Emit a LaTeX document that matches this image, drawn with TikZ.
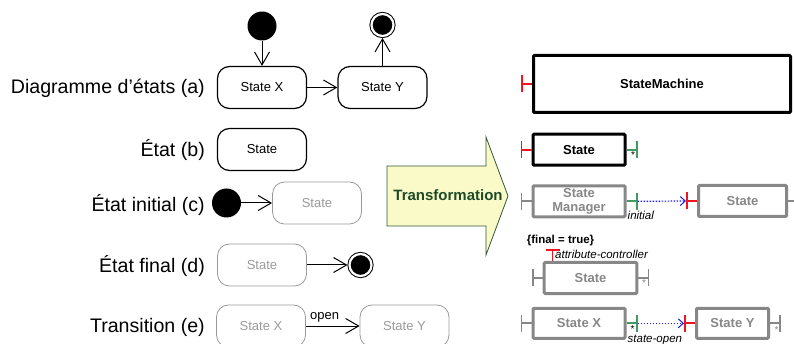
\documentclass[tikz,border=0pt]{standalone}
\usepackage{fontspec}
\setmainfont{Liberation Sans}
\usepackage{tikz}
\usetikzlibrary{arrows.meta,positioning}
\definecolor{lgc}{HTML}{9A9A9A}
\definecolor{boxg}{HTML}{878787}
\definecolor{stubr}{HTML}{F0141E}
\definecolor{stubg}{HTML}{3F9B62}
\definecolor{trfill}{HTML}{FAFAC8}
\definecolor{trdraw}{HTML}{2C5A36}
\definecolor{trtext}{HTML}{1E4A28}
\definecolor{depc}{HTML}{1A1AF0}
\tikzset{
  lab/.style={anchor=east,inner sep=0pt,font=\fontsize{19.6}{21}\selectfont},
  st/.style={draw,line width=1.2pt,rounded corners=12pt,minimum width=89pt,minimum height=42pt,inner sep=0pt,font=\fontsize{13}{15}\selectfont},
  gst/.style={st,draw=lgc,text=lgc,line width=0.8pt},
  ini/.style={circle,fill=black,minimum size=29pt,inner sep=0pt},
  fin/.style={circle,fill=black,draw=black,line width=1pt,double=white,double distance=2.2pt,minimum size=22pt,inner sep=0pt,outer sep=2pt},
  tr/.style={line width=1pt,-{Straight Barb[length=13pt,width=15pt,line width=1pt]}},
  tarrow/.style={draw=trdraw,fill=trfill,line width=0.8pt},
  mb/.style={draw,line width=3pt,rounded corners=1pt,inner sep=0pt,align=center,font=\bfseries\fontsize{13}{14}\selectfont},
  gb/.style={mb,draw=boxg,text=boxg},
  rstub/.style={draw=stubr,line width=1.8pt,-{Bar[width=17pt]}},
  gstub/.style={rstub,draw=stubg},
  ystub/.style={rstub,draw=boxg},
  dep/.style={draw=depc,line width=1.2pt,dash pattern=on 1.5pt off 1.5pt,-{Straight Barb[length=5pt,width=9pt,line width=1pt]}},
  anno/.style={font=\itshape\fontsize{11.5}{12}\selectfont,inner sep=0pt},
  mult/.style={font=\fontsize{10}{10}\selectfont,inner sep=0pt,text height=7.2pt,text depth=0pt,anchor=south},
}

\begin{document}
\begin{tikzpicture}[x=1pt,y=-1pt]
  \useasboundingbox (0,0) rectangle (794,344);
  \node[lab] (la) at (205,88) {Diagramme d’états (a)};
  \node[lab] (lb) at (205,150) {État (b)};
  \node[lab] (lc) at (205,205) {État initial (c)};
  \node[lab] (ld) at (205,266) {État final (d)};
  \node[lab] (le) at (205,327) {Transition (e)};

  \node[st] (ax) at (262,87.5) {State X};
  \node[st] (ay) at (382.5,87.5) {State Y};
  \node[ini] (ai) at (262,26) {};
  \node[fin] (af) at (382.5,25) {};
  \draw[tr] (ai) -- (ax);
  \draw[tr] (ax) -- (ay);
  \draw[tr] (ay) -- (af);
  \node[st] (bs) at (262,149.5) {State};
  \node[ini] (ci) at (226.5,203) {};
  \node[gst] (cs) at (317,203) {State};
  \draw[tr] (ci) -- (cs);
  \node[gst] (ds) at (262,265) {State};
  \node[fin] (df) at (360.5,265) {};
  \draw[tr] (ds) -- (df);
  \node[gst] (ex) at (261,326) {State X};
  \node[gst] (ey) at (404.5,326) {State Y};
  \draw[tr] (ex) -- node[pos=0.35,above=0pt,font=\fontsize{13}{15}\selectfont] {open} (ey);

  \draw[tarrow] (387,166) -- (486,166) -- (486,137) -- (508,196) -- (486,255) -- (486,226) -- (387,226) -- cycle;
  \node[font=\bfseries\fontsize{15}{16}\selectfont,text=trtext] (tf) at (448,195) {Transformation};

  \node[mb,minimum width=257pt,minimum height=57pt] (sm) at (662,84) {StateMachine};
  \draw[rstub] (sm.west) -- ++(-11,0);

  \node[mb,minimum width=92pt,minimum height=31pt] (bst) at (579,149.7) {State};
  \draw[rstub] (bst.west) -- ++(-11,0);
  \draw[gstub] (bst.east) -- ++(11,0);
  \node[mult] at (633,158.5) {*};

  \node[gb,minimum width=92pt,minimum height=31pt] (mgr) at (579,201.3) {State\\Manager};
  \node[gb,minimum width=88pt,minimum height=31pt] (cst) at (742.5,201) {State};
  \draw[ystub] (mgr.west) -- ++(-11,0);
  \draw[gstub] (mgr.east) -- ++(11,0) coordinate (mgr-o);
  \draw[rstub] (cst.west) -- ++(-11,0) coordinate (cst-i);
  \draw[ystub] (cst.east) -- ++(11,0);
  \draw[dep] (mgr-o) -- (cst-i);
  \node[anno,anchor=west] at (627.5,215) {initial};

  \node[gb,minimum width=92.6pt,minimum height=31pt] (fs) at (590.5,278) {State};
  \draw[ystub] (fs.west) -- ++(-11,0);
  \draw[ystub] (fs.east) -- ++(11,0);
  \node[mult,text=boxg] at (644,287) {*};
  \draw[rstub,-{Bar[width=14pt]}] ([xshift=-38pt]fs.north) -- ++(0,-12) coordinate (fs-a);
  \node[anno,anchor=west] at (555,254.5) {attribute-controller};
  \node[font=\bfseries\fontsize{11.5}{12}\selectfont,inner sep=0pt] at (560.5,241) {\{final = true\}};

  \node[gb,minimum width=92pt,minimum height=30pt] (ex2) at (579,323.3) {State X};
  \node[gb,minimum width=72pt,minimum height=30pt] (ey2) at (732.5,323.3) {State Y};
  \draw[ystub] (ex2.west) -- ++(-11,0);
  \draw[gstub] (ex2.east) -- ++(11,0) coordinate (ex2-o);
  \draw[rstub] (ey2.west) -- ++(-11,0) coordinate (ey2-i);
  \draw[ystub] (ey2.east) -- ++(11,0);
  \draw[dep] (ex2-o) -- (ey2-i);
  \node[mult] at (632.5,332.5) {*};
  \node[mult,text=boxg] at (776.5,334) {*};
  \node[anno,anchor=west] at (627.5,339.5) {state-open};
\end{tikzpicture}
\end{document}
